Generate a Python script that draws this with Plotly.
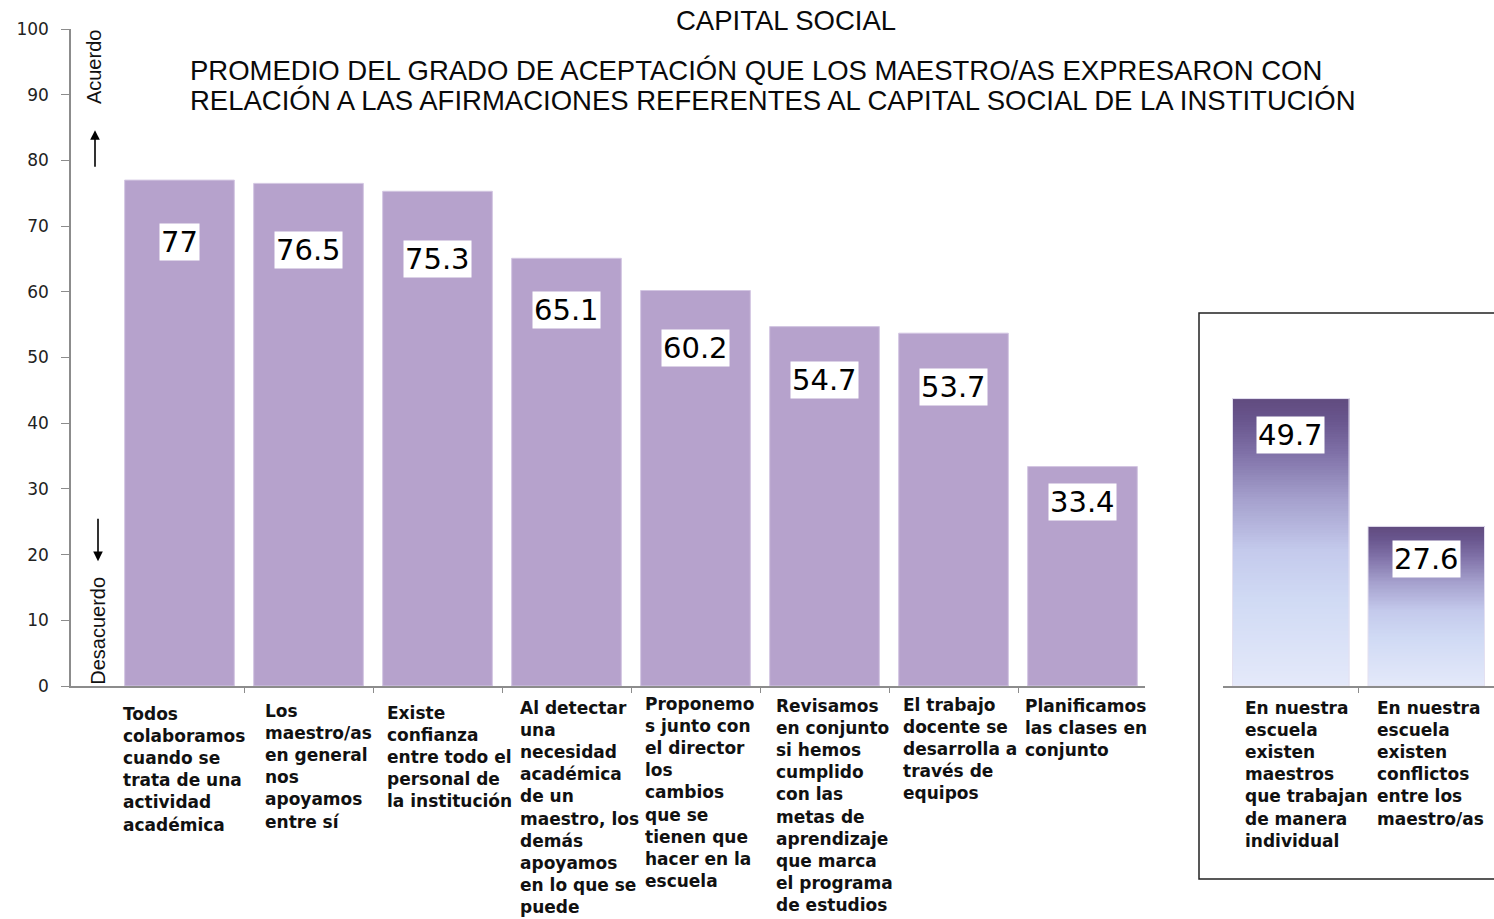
import numpy as np
import plotly.graph_objects as go

W, H = 1494, 919

# Main chart: statements about the institution's social capital
categories = [
    "Todos<br>colaboramos<br>cuando se<br>trata de una<br>actividad<br>académica",
    "Los<br>maestro/as<br>en general<br>nos<br>apoyamos<br>entre sí",
    "Existe<br>confianza<br>entre todo el<br>personal de<br>la institución",
    "Al detectar<br>una<br>necesidad<br>académica<br>de un<br>maestro, los<br>demás<br>apoyamos<br>en lo que se<br>puede",
    "Proponemo<br>s junto con<br>el director<br>los<br>cambios<br>que se<br>tienen que<br>hacer en la<br>escuela",
    "Revisamos<br>en conjunto<br>si hemos<br>cumplido<br>con las<br>metas de<br>aprendizaje<br>que marca<br>el programa<br>de estudios",
    "El trabajo<br>docente se<br>desarrolla a<br>través de<br>equipos",
    "Planificamos<br>las clases en<br>conjunto",
]
values = [77, 76.5, 75.3, 65.1, 60.2, 54.7, 53.7, 33.4]

# Inset chart: negatively worded statements
inset_categories = [
    "En nuestra<br>escuela<br>existen<br>maestros<br>que trabajan<br>de manera<br>individual",
    "En nuestra<br>escuela<br>existen<br>conflictos<br>entre los<br>maestro/as",
]
inset_values = [49.7, 27.6]

y_ticks = [0, 10, 20, 30, 40, 50, 60, 70, 80, 90, 100]

title_text = "CAPITAL SOCIAL"
subtitle_lines = [
    "PROMEDIO DEL GRADO DE ACEPTACIÓN QUE LOS MAESTRO/AS EXPRESARON CON",
    "RELACIÓN A LAS AFIRMACIONES REFERENTES AL CAPITAL SOCIAL DE LA INSTITUCIÓN",
]

# placement tweaks (px): value boxes below bar tops, label blocks shifted sideways
label_drop = [62, 67, 68, 52, 58, 53, 54, 35]
inset_label_drop = [36, 33]
label_nudge = [4, 10, 12, 13, 4, 10, 6, 3]
label_lift = [-6, -3, -5, 0, 4, 2, 3, 2]
inset_label_nudge = [16, 4]


def px_x(p):
    return p / W


def px_y(p):
    return (H - p) / H


BAR_COLOR = "#B6A2CC"
AXIS_COLOR = "#8C8C8C"
LABEL_FONT = dict(family="DejaVu Sans", size=17, color="#111111")
VALUE_FONT = dict(family="DejaVu Sans", size=29, color="#000000")
HEAD_FONT = dict(family="Liberation Sans", size=27.5, color="#0a0a0a")

fig = go.Figure()

xs = list(range(len(values)))
fig.add_trace(go.Bar(
    x=xs, y=values, width=0.85,
    marker=dict(color=BAR_COLOR, line=dict(color="#D3C6E2", width=1)),
    xaxis="x", yaxis="y", showlegend=False, hoverinfo="y",
))

# Inset bars: vertical purple-to-light-blue gradient, built as one heatmap per bar
grad_scale = [
    [0.0, "rgb(228,233,250)"],
    [0.30, "rgb(208,218,244)"],
    [0.47, "rgb(196,202,236)"],
    [0.65, "rgb(165,160,205)"],
    [0.82, "rgb(125,110,165)"],
    [0.92, "rgb(105,86,142)"],
    [1.0, "rgb(97,75,127)"],
]
n_steps = 120
inset_width = 0.86
for i, v in enumerate(inset_values):
    y_edges = np.linspace(0, v, n_steps + 1)
    z = [[(k + 0.5) / n_steps] for k in range(n_steps)]
    fig.add_trace(go.Heatmap(
        x=[i - inset_width / 2, i + inset_width / 2], y=y_edges, z=z,
        colorscale=grad_scale, zmin=0, zmax=1, showscale=False,
        xaxis="x2", yaxis="y2", hoverinfo="skip",
    ))
fig.add_trace(go.Bar(
    x=list(range(len(inset_values))), y=inset_values, width=inset_width,
    marker=dict(color="rgba(0,0,0,0)", line=dict(color="#E4E0F0", width=1)),
    xaxis="x2", yaxis="y2", showlegend=False, hoverinfo="y",
))

annotations = []

# value boxes
for i, v in enumerate(values):
    annotations.append(dict(
        x=i, y=v, xref="x", yref="y", text=f"{v:g}", showarrow=False,
        yanchor="middle", yshift=-label_drop[i], font=VALUE_FONT,
        bgcolor="white", borderpad=1,
    ))
for i, v in enumerate(inset_values):
    annotations.append(dict(
        x=i, y=v, xref="x2", yref="y2", text=f"{v:g}", showarrow=False,
        yanchor="middle", yshift=-inset_label_drop[i], font=VALUE_FONT,
        bgcolor="white", borderpad=1,
    ))

# category labels under each bar
for i, c in enumerate(categories):
    annotations.append(dict(
        x=i, y=0, xref="x", yref="y", text=f"<b>{c}</b>", showarrow=False,
        xanchor="center", yanchor="top", align="left",
        xshift=label_nudge[i], yshift=-10 + label_lift[i],
        font=LABEL_FONT,
    ))
for i, c in enumerate(inset_categories):
    annotations.append(dict(
        x=i, y=0, xref="x2", yref="y2", text=f"<b>{c}</b>", showarrow=False,
        xanchor="center", yanchor="top", align="left",
        xshift=inset_label_nudge[i], yshift=-10,
        font=LABEL_FONT,
    ))

# titles
annotations.append(dict(
    x=px_x(786), y=px_y(20), xref="paper", yref="paper", text=title_text,
    showarrow=False, xanchor="center", yanchor="middle", font=HEAD_FONT,
))
for k, line in enumerate(subtitle_lines):
    annotations.append(dict(
        x=px_x(188), y=px_y(70 + 30 * k), xref="paper", yref="paper",
        text=line, showarrow=False, xanchor="left", yanchor="middle",
        font=HEAD_FONT,
    ))

# agreement direction hints along the y axis
hint_font = dict(family="Liberation Sans", size=20, color="#111111")
annotations.append(dict(
    x=px_x(94), y=94.2, xref="paper", yref="y", text="Acuerdo", textangle=-90,
    showarrow=False, xanchor="center", yanchor="middle", font=hint_font,
))
annotations.append(dict(
    x=px_x(98), y=8.4, xref="paper", yref="y", text="Desacuerdo", textangle=-90,
    showarrow=False, xanchor="center", yanchor="middle", font=hint_font,
))
annotations.append(dict(
    x=px_x(95), y=84.6, xref="paper", yref="y", ax=0, ay=38,
    axref="pixel", ayref="pixel", text="", showarrow=True, arrowhead=2,
    arrowsize=1.2, arrowwidth=1.6, arrowcolor="#000000",
))
annotations.append(dict(
    x=px_x(98), y=19.0, xref="paper", yref="y", ax=0, ay=-44,
    axref="pixel", ayref="pixel", text="", showarrow=True, arrowhead=2,
    arrowsize=1.2, arrowwidth=1.6, arrowcolor="#000000",
))

# frame around the inset chart
shapes = [dict(
    type="rect", xref="paper", yref="paper",
    x0=px_x(1199), x1=1.02, y0=px_y(879), y1=px_y(313),
    line=dict(color="#222222", width=1.5), fillcolor="rgba(0,0,0,0)", layer="below",
)]

n = len(values)
fig.update_layout(
    width=W, height=H,
    margin=dict(l=0, r=0, t=0, b=0, autoexpand=False),
    paper_bgcolor="white", plot_bgcolor="white",
    showlegend=False,
    annotations=annotations, shapes=shapes,
    xaxis=dict(
        domain=[px_x(71), px_x(1145)],
        range=[-0.5 - 44 / 129, n - 0.5 - 2 / 129],
        tickvals=[i + 0.5 for i in range(n)], ticktext=[""] * n,
        ticks="outside", ticklen=5, tickcolor=AXIS_COLOR,
        showline=True, linecolor=AXIS_COLOR, linewidth=1.5,
        showgrid=False, zeroline=False, fixedrange=True, automargin=False,
    ),
    yaxis=dict(
        domain=[px_y(686), px_y(29)],
        range=[0, 100], tickvals=y_ticks,
        ticks="outside", ticklen=8, tickcolor=AXIS_COLOR,
        showline=True, linecolor=AXIS_COLOR, linewidth=1.5,
        showgrid=False, zeroline=False, automargin=False,
        ticklabelstandoff=9,
        tickfont=dict(family="DejaVu Sans", size=17, color="#222222"),
    ),
    xaxis2=dict(
        domain=[px_x(1223), 1.0],
        range=[-0.5, len(inset_values) - 0.5],
        tickvals=[0.5], ticktext=[""],
        ticks="outside", ticklen=5, tickcolor=AXIS_COLOR,
        showline=True, linecolor=AXIS_COLOR, linewidth=1.5,
        showgrid=False, zeroline=False, anchor="y2", automargin=False,
    ),
    yaxis2=dict(
        domain=[px_y(686), px_y(339)],
        range=[0, 60], visible=False, anchor="x2",
    ),
)

fig.write_html("out.html")
